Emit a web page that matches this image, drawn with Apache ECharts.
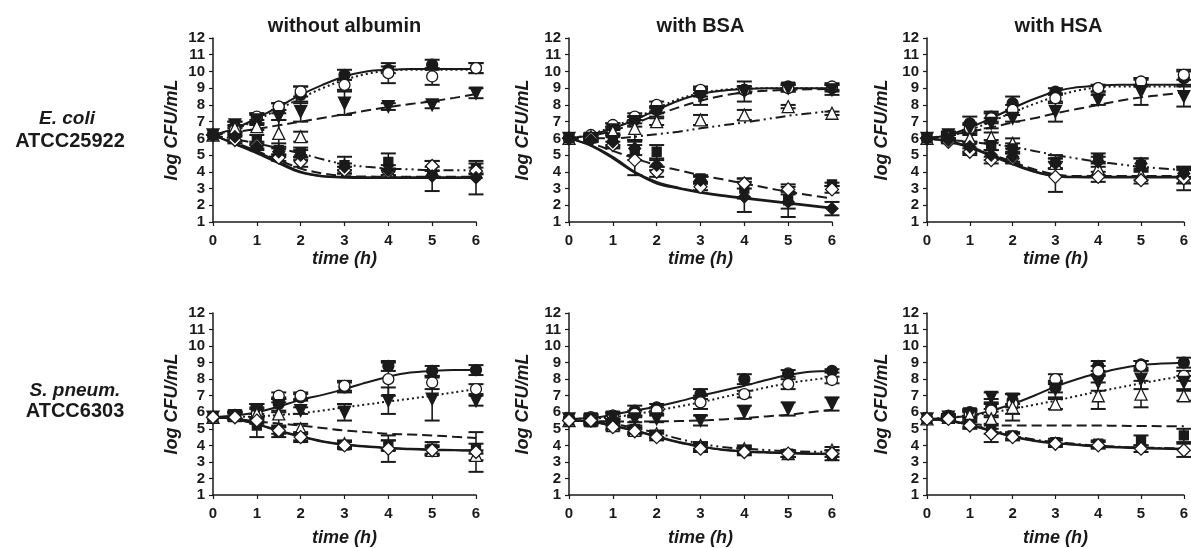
<!DOCTYPE html>
<html><head><meta charset="utf-8">
<script src="https://cdn.jsdelivr.net/npm/echarts@6/dist/echarts.min.js"></script>
<style>html,body{margin:0;padding:0;background:#fff}#c{width:1191px;height:548px}</style>
</head><body><div id="c"></div>
<script>
// ---------------- DATA ----------------
const timePoints = [0, 0.5, 1, 1.5, 2, 3, 4, 5, 6];
const fitTimes = [0, 0.5, 1, 1.5, 2, 2.5, 3, 3.5, 4, 4.5, 5, 5.5, 6];
const columnTitles = ['without albumin', 'with BSA', 'with HSA'];
const rowSpecies = ['E. coli', 'S. pneum.'];
const rowStrains = ['ATCC25922', 'ATCC6303'];
const xTickLabels = ['0', '1', '2', '3', '4', '5', '6'];
const yAxisTitle = 'log CFU/mL';
const xAxisTitle = 'time (h)';
// marker order: filled circle, open circle, filled down-triangle, open up-triangle, filled square, open diamond, filled diamond

// E. coli, without albumin
const ecoliNoneValues = [
  [6.2, 6.7, 7.2, 7.9, 8.6, 9.8, 10.1, 10.4, 10.2],
  [6.2, 6.5, 7.3, 7.9, 8.8, 9.2, 9.9, 9.7, 10.2],
  [6.2, 6.8, 7.1, 7.3, 7.6, 8.1, 7.9, 8.0, 8.7],
  [6.2, 6.6, 6.7, 6.3, 6.1, 4.4, 4.1, 4.1, 4.0],
  [6.2, 6.0, 5.9, 5.3, 5.15, 4.4, 4.6, 4.0, 4.2],
  [6.2, 5.9, 5.6, 4.85, 4.6, 4.1, 4.0, 4.35, 4.05],
  [6.2, 6.1, 5.5, 5.2, 5.0, 4.3, 4.1, 3.75, 3.65]
];
const ecoliNoneErrors = [
  [0.1, 0.3, 0.3, 0.2, 0.5, 0.3, 0.2, 0.3, 0.3],
  [0.1, 0.2, 0.2, 0.2, 0.3, 0.3, 0.6, 0.5, 0.3],
  [0.1, 0.2, 0.3, 0.2, 0.6, 0.7, 0.2, 0.2, 0.3],
  [0.1, 0.2, 0.2, 0.8, 0.3, 0, 0, 0, 0],
  [0.1, 0.2, 0.3, 0.4, 0.3, 0.5, 0.5, 0.3, 0.3],
  [0.1, 0.2, 0.2, 0.2, 0.3, 0.2, 0.2, 0.3, 0.2],
  [0.1, 0, 0.2, 0.2, 0.3, 0.2, 0.3, 0.9, 1.0]
];
const ecoliNoneFits = [
  [6.2, 6.6, 7.2, 7.9, 8.6, 9.2, 9.7, 10.0, 10.1, 10.15, 10.15, 10.15, 10.15],
  [6.2, 6.55, 7.1, 7.75, 8.4, 9.0, 9.5, 9.85, 10.05, 10.1, 10.1, 10.1, 10.1],
  [6.2, 6.38, 6.57, 6.78, 7.0, 7.22, 7.44, 7.66, 7.87, 8.05, 8.22, 8.42, 8.65],
  [6.2, 5.95, 5.7, 5.4, 5.1, 4.75, 4.45, 4.3, 4.2, 4.15, 4.1, 4.1, 4.1],
  [6.2, 5.75, 5.25, 4.7, 4.2, 3.9, 3.75, 3.72, 3.7, 3.7, 3.7, 3.7, 3.7],
  [6.2, 5.7, 5.2, 4.6, 4.0, 3.75, 3.7, 3.68, 3.68, 3.68, 3.68, 3.68, 3.68],
  [6.2, 5.65, 5.1, 4.5, 3.95, 3.72, 3.65, 3.63, 3.63, 3.63, 3.63, 3.63, 3.63]
];
const ecoliNoneFitKinds = ['solid', 'dotted', 'dashed', 'dashdotdot', 'dashed', 'solid', 'solid'];

// E. coli, with BSA
const ecoliBsaValues = [
  [6.0, 6.1, 6.7, 7.1, 7.7, 8.7, 8.9, 9.1, 9.0],
  [6.0, 6.2, 6.8, 7.3, 8.0, 8.9, 8.9, 9.0, 9.1],
  [6.0, 6.0, 6.5, 7.0, 7.6, 8.5, 8.8, 9.0, 8.9],
  [6.0, 6.1, 6.4, 6.6, 7.0, 7.1, 7.4, 7.9, 7.5],
  [6.0, 6.0, 5.9, 5.3, 5.2, 3.6, 3.0, 2.3, 3.25],
  [6.0, 6.0, 5.6, 4.7, 4.0, 3.1, 3.3, 2.95, 2.95],
  [6.0, 5.9, 5.8, 5.4, 4.4, 3.5, 2.5, 2.2, 1.8]
];
const ecoliBsaErrors = [
  [0.2, 0.2, 0.2, 0.2, 0.2, 0.2, 0.2, 0.2, 0.2],
  [0.2, 0.1, 0.1, 0.2, 0.2, 0.2, 0.2, 0.2, 0.2],
  [0.2, 0.2, 0.2, 0.3, 0.3, 0.5, 0.6, 0.2, 0.3],
  [0.2, 0.1, 0.2, 0.7, 0.2, 0.3, 0.3, 0.1, 0.1],
  [0.2, 0.2, 0.3, 0.6, 0.4, 0.2, 0.6, 0.5, 0.1],
  [0.2, 0.1, 0.2, 0.9, 0.3, 0.2, 0.3, 0.3, 0.2],
  [0.2, 0.1, 0.3, 0.4, 0.3, 0.2, 0.9, 0.9, 0.4]
];
const ecoliBsaFits = [
  [6.0, 6.2, 6.6, 7.1, 7.7, 8.25, 8.65, 8.85, 8.95, 9.0, 9.0, 9.0, 9.0],
  [6.0, 6.25, 6.7, 7.2, 7.8, 8.35, 8.7, 8.9, 8.97, 9.0, 9.0, 9.0, 9.0],
  [6.0, 6.15, 6.45, 6.9, 7.4, 7.85, 8.25, 8.55, 8.75, 8.85, 8.9, 8.93, 8.95],
  [6.0, 6.0, 6.0, 6.1, 6.25, 6.4, 6.6, 6.78, 6.95, 7.15, 7.35, 7.5, 7.65],
  [6.0, 5.7, 5.25, 4.8, 4.4, 4.1, 3.8, 3.55, 3.3, 3.05, 2.8, 2.6, 2.4],
  [6.0, 5.6, 4.9, 4.0, 3.4, 3.05, 2.8, 2.6, 2.45, 2.3, 2.15, 2.0, 1.85],
  [6.0, 5.55, 4.8, 3.95, 3.3, 3.0, 2.75, 2.55, 2.4, 2.25, 2.1, 1.95, 1.8]
];
const ecoliBsaFitKinds = ['solid', 'dotted', 'dashed', 'dashdotdot', 'dashed', 'solid', 'solid'];

// E. coli, with HSA
const ecoliHsaValues = [
  [6.0, 6.2, 6.9, 7.3, 8.1, 8.8, 9.0, 9.3, 9.6],
  [6.0, 6.0, 6.6, 7.2, 7.7, 8.4, 9.0, 9.4, 9.8],
  [6.0, 6.2, 6.6, 6.9, 7.2, 7.6, 8.3, 8.8, 8.5],
  [6.0, 6.1, 6.0, 6.05, 5.7, 4.5, 4.2, 3.8, 3.7],
  [6.0, 6.0, 5.4, 5.6, 5.4, 4.6, 4.8, 4.4, 4.0],
  [6.0, 5.8, 5.2, 4.7, 4.8, 3.7, 3.7, 3.5, 3.6],
  [6.0, 5.9, 5.5, 5.0, 4.9, 4.5, 4.6, 4.5, 3.9]
];
const ecoliHsaErrors = [
  [0.1, 0.2, 0.4, 0.3, 0.4, 0.2, 0.2, 0.2, 0.4],
  [0.1, 0.2, 0.3, 0.3, 0.3, 0.3, 0.2, 0.2, 0.3],
  [0.1, 0.2, 0.2, 0.3, 0.2, 0.6, 0.3, 0.8, 0.6],
  [0.1, 0.2, 0.2, 0.3, 0.3, 0.3, 0.4, 0.3, 0.4],
  [0.1, 0.2, 0.3, 0.3, 0.3, 0.4, 0.3, 0.4, 0.3],
  [0.1, 0.1, 0.2, 0.2, 0.3, 0.9, 0.3, 0.2, 0.7],
  [0.1, 0.1, 0.3, 0.3, 0.3, 0.3, 0.3, 0.3, 0.3]
];
const ecoliHsaFits = [
  [6.0, 6.2, 6.65, 7.2, 7.8, 8.35, 8.8, 9.05, 9.15, 9.2, 9.2, 9.2, 9.2],
  [6.0, 6.15, 6.5, 7.0, 7.55, 8.05, 8.5, 8.85, 9.05, 9.1, 9.1, 9.1, 9.1],
  [6.0, 6.2, 6.4, 6.65, 6.95, 7.2, 7.5, 7.75, 8.0, 8.25, 8.45, 8.6, 8.75],
  [6.0, 5.9, 5.8, 5.65, 5.5, 5.25, 5.0, 4.8, 4.6, 4.45, 4.3, 4.2, 4.1],
  [6.0, 5.8, 5.5, 5.05, 4.6, 4.15, 3.85, 3.75, 3.75, 3.75, 3.75, 3.75, 3.75],
  [6.0, 5.85, 5.5, 5.0, 4.5, 4.05, 3.75, 3.7, 3.7, 3.7, 3.7, 3.7, 3.7],
  [6.0, 5.8, 5.45, 4.95, 4.45, 4.0, 3.72, 3.67, 3.66, 3.66, 3.66, 3.66, 3.66]
];
const ecoliHsaFitKinds = ['solid', 'dotted', 'dashed', 'dashdotdot', 'dashed', 'solid', 'solid'];

// S. pneumoniae, without albumin
const pneumNoneValues = [
  [5.7, 5.8, 6.1, 6.5, 6.9, 7.5, 8.8, 8.5, 8.55],
  [5.7, 5.8, 5.9, 7.0, 7.0, 7.6, 8.0, 7.8, 7.4],
  [5.7, 5.8, 6.1, 6.4, 6.1, 6.0, 6.7, 6.8, 6.7],
  [5.7, 5.8, 5.9, 5.9, 5.0, 4.1, 4.0, 3.7, 3.4],
  [5.7, 5.8, 5.2, 4.8, 4.5, 4.0, 4.0, 3.8, 3.8],
  [5.7, 5.7, 5.5, 4.9, 4.5, 4.0, 3.8, 3.7, 3.6]
];
const pneumNoneErrors = [
  [0.1, 0.2, 0.4, 0.4, 0.2, 0.3, 0.3, 0.3, 0.3],
  [0.1, 0.2, 0.3, 0.2, 0.2, 0.3, 1.0, 0.4, 0.3],
  [0.1, 0.2, 0.4, 0.4, 0.2, 0.5, 0.8, 1.3, 0.3],
  [0.1, 0.2, 0.4, 0.7, 0.3, 0.2, 0.3, 0.2, 0.3],
  [0.1, 0.3, 0.7, 0.3, 0.2, 0.2, 0.3, 0.4, 0.3],
  [0.1, 0.2, 0.2, 0.2, 0.3, 0.2, 0.8, 0.3, 1.2]
];
const pneumNoneFits = [
  [5.7, 5.8, 6.0, 6.35, 6.75, 7.05, 7.4, 7.8, 8.15, 8.4, 8.5, 8.55, 8.55],
  [5.7, 5.72, 5.75, 5.83, 5.95, 6.1, 6.3, 6.47, 6.65, 6.82, 7.0, 7.2, 7.4],
  [5.7, 5.6, 5.45, 5.32, 5.2, 5.05, 4.9, 4.8, 4.7, 4.65, 4.6, 4.52, 4.45],
  [5.7, 5.6, 5.3, 4.9, 4.55, 4.25, 4.05, 3.95, 3.85, 3.8, 3.75, 3.72, 3.7],
  [5.7, 5.58, 5.27, 4.87, 4.52, 4.22, 4.02, 3.92, 3.82, 3.77, 3.72, 3.7, 3.68]
];
const pneumNoneFitKinds = ['solid', 'dotted', 'dashed', 'solid', 'solid'];

// S. pneumoniae, with BSA
const pneumBsaValues = [
  [5.6, 5.6, 5.8, 6.1, 6.3, 7.1, 8.0, 8.35, 8.5],
  [5.6, 5.7, 5.8, 5.9, 6.1, 6.6, 7.1, 7.7, 7.95],
  [5.6, 5.6, 5.7, 5.6, 5.6, 5.5, 6.0, 6.2, 6.5],
  [5.5, 5.5, 5.2, 4.9, 4.7, 4.0, 3.8, 3.5, 3.7],
  [5.5, 5.4, 5.4, 5.0, 4.6, 3.9, 3.7, 3.5, 3.4],
  [5.5, 5.5, 5.1, 4.85, 4.5, 3.8, 3.6, 3.5, 3.5]
];
const pneumBsaErrors = [
  [0.2, 0.2, 0.2, 0.3, 0.2, 0.3, 0.3, 0.2, 0.1],
  [0.2, 0.2, 0.2, 0.2, 0.2, 0.4, 0.2, 0.3, 0.2],
  [0.2, 0.2, 0.2, 0.2, 0.2, 0.3, 0.4, 0.4, 0.4],
  [0.2, 0.2, 0.2, 0.2, 0.2, 0.2, 0.2, 0.2, 0.2],
  [0.2, 0.2, 0.2, 0.2, 0.2, 0.2, 0.2, 0.2, 0.3],
  [0.2, 0.2, 0.2, 0.2, 0.2, 0.2, 0.2, 0.2, 0.2]
];
const pneumBsaFits = [
  [5.6, 5.65, 5.85, 6.1, 6.35, 6.65, 7.0, 7.3, 7.6, 7.95, 8.25, 8.45, 8.5],
  [5.6, 5.62, 5.7, 5.88, 6.1, 6.35, 6.6, 6.9, 7.2, 7.5, 7.75, 7.95, 8.1],
  [5.5, 5.47, 5.45, 5.44, 5.45, 5.47, 5.5, 5.57, 5.65, 5.75, 5.85, 6.0, 6.15],
  [5.5, 5.45, 5.3, 5.05, 4.75, 4.4, 4.1, 3.9, 3.8, 3.72, 3.65, 3.62, 3.6],
  [5.5, 5.45, 5.2, 4.9, 4.55, 4.2, 3.95, 3.75, 3.65, 3.6, 3.55, 3.52, 3.5],
  [5.5, 5.43, 5.17, 4.87, 4.52, 4.17, 3.92, 3.72, 3.62, 3.56, 3.52, 3.48, 3.46]
];
const pneumBsaFitKinds = ['solid', 'dotted', 'dashed', 'dashdotdot', 'solid', 'solid'];

// S. pneumoniae, with HSA
const pneumHsaValues = [
  [5.6, 5.7, 6.0, 6.3, 6.7, 7.5, 8.8, 8.9, 9.0],
  [5.6, 5.8, 5.9, 6.1, 6.5, 8.0, 8.5, 8.8, 8.2],
  [5.6, 5.7, 5.9, 6.9, 6.8, 7.4, 7.8, 8.0, 7.8],
  [5.6, 5.7, 5.8, 5.6, 6.3, 6.5, 7.0, 7.1, 7.0],
  [5.6, 5.6, 5.3, 5.0, 4.6, 4.2, 4.1, 4.3, 4.6],
  [5.6, 5.6, 5.2, 4.7, 4.5, 4.1, 4.0, 3.8, 3.7]
];
const pneumHsaErrors = [
  [0.1, 0.1, 0.2, 0.5, 0.4, 0.3, 0.3, 0.2, 0.3],
  [0.1, 0.1, 0.2, 0.4, 0.6, 0.3, 0.3, 0.3, 0.3],
  [0.1, 0.1, 0.2, 0.3, 0.3, 0.5, 0.5, 0.6, 0.4],
  [0.1, 0.1, 0.2, 0.6, 0.8, 0.3, 0.8, 0.8, 0.3],
  [0.1, 0.1, 0.2, 0.3, 0.2, 0.2, 0.2, 0.3, 0.4],
  [0.1, 0.1, 0.2, 0.5, 0.2, 0.2, 0.2, 0.2, 0.4]
];
const pneumHsaFits = [
  [5.6, 5.65, 5.8, 6.1, 6.5, 7.0, 7.55, 8.0, 8.35, 8.65, 8.85, 8.95, 9.0],
  [5.6, 5.68, 5.8, 5.98, 6.2, 6.45, 6.7, 6.98, 7.25, 7.5, 7.75, 7.98, 8.2],
  [5.6, 5.45, 5.3, 5.22, 5.2, 5.2, 5.2, 5.2, 5.2, 5.18, 5.17, 5.16, 5.15],
  [5.6, 5.5, 5.3, 4.95, 4.6, 4.35, 4.2, 4.08, 3.98, 3.92, 3.87, 3.84, 3.82],
  [5.6, 5.5, 5.25, 4.9, 4.55, 4.3, 4.15, 4.05, 3.95, 3.9, 3.85, 3.82, 3.8],
  [5.6, 5.48, 5.22, 4.87, 4.52, 4.27, 4.12, 4.02, 3.92, 3.87, 3.82, 3.79, 3.77]
];
const pneumHsaFitKinds = ['solid', 'dotted', 'dashed', 'dashdot', 'solid', 'solid'];

// ---------------- STYLE / LAYOUT ----------------
const FONT = '"Liberation Sans", Arial, sans-serif';
const INK = '#1a1a1a';
const panels = [
  { vals: ecoliNoneValues, errs: ecoliNoneErrors, fits: ecoliNoneFits, kinds: ecoliNoneFitKinds },
  { vals: ecoliBsaValues, errs: ecoliBsaErrors, fits: ecoliBsaFits, kinds: ecoliBsaFitKinds },
  { vals: ecoliHsaValues, errs: ecoliHsaErrors, fits: ecoliHsaFits, kinds: ecoliHsaFitKinds },
  { vals: pneumNoneValues, errs: pneumNoneErrors, fits: pneumNoneFits, kinds: pneumNoneFitKinds },
  { vals: pneumBsaValues, errs: pneumBsaErrors, fits: pneumBsaFits, kinds: pneumBsaFitKinds },
  { vals: pneumHsaValues, errs: pneumHsaErrors, fits: pneumHsaFits, kinds: pneumHsaFitKinds }
];
const colLeft = [213, 569, 927];
const colNameGap = [31, 36, 35];
const rowTop = [38, 313];
const rowXNameGap = [28, 34];
const GRID_W = 263, GRID_H = 184;

const markerStyles = [
  { symbol: 'circle', size: 11, fill: INK, rot: 0 },
  { symbol: 'circle', size: 11, fill: '#fff', rot: 0 },
  { symbol: 'triangle', size: 12, fill: INK, rot: 180 },
  { symbol: 'triangle', size: 12, fill: '#fff', rot: 0 },
  { symbol: 'rect', size: 9, fill: INK, rot: 0 },
  { symbol: 'diamond', size: 13, fill: '#fff', rot: 0 },
  { symbol: 'diamond', size: 12, fill: INK, rot: 0 }
];
const dashTypes = {
  solid: 'solid',
  dotted: [2, 3],
  dashed: [10, 5],
  dashdotdot: [10, 4, 2, 4, 2, 4],
  dashdot: [10, 4, 2, 4]
};

const grids = [], xAxes = [], yAxes = [], series = [];
panels.forEach((p, i) => {
  const row = Math.floor(i / 3), col = i % 3;
  grids.push({ left: colLeft[col], top: rowTop[row], width: GRID_W, height: GRID_H });
  xAxes.push({
    gridIndex: i, type: 'value', min: 0, max: 6, interval: 1,
    name: xAxisTitle, nameLocation: 'middle', nameGap: rowXNameGap[row],
    nameTextStyle: { fontFamily: FONT, fontWeight: 'bold', fontStyle: 'italic', fontSize: 18, color: INK },
    axisLine: { lineStyle: { color: INK, width: 1.5 } },
    axisTick: { show: true, length: 4, lineStyle: { color: INK, width: 1.2 } },
    axisLabel: { fontFamily: FONT, fontWeight: 'bold', fontSize: 15, color: INK, margin: 11,
      formatter: v => xTickLabels[Math.round(v)] },
    splitLine: { show: false }
  });
  yAxes.push({
    gridIndex: i, type: 'value', min: 1, max: 12, interval: 1,
    name: yAxisTitle, nameLocation: 'middle', nameGap: colNameGap[col] + 1,
    nameTextStyle: { fontFamily: FONT, fontWeight: 'bold', fontStyle: 'italic', fontSize: 18, color: INK },
    axisLine: { show: true, lineStyle: { color: INK, width: 1.5 } },
    axisTick: { show: true, length: 4, lineStyle: { color: INK, width: 1.2 } },
    axisLabel: { fontFamily: FONT, fontWeight: 'bold', fontSize: 15, color: INK, margin: 8 },
    splitLine: { show: false }
  });
  // fitted curves
  p.fits.forEach((f, k) => {
    series.push({
      type: 'line', xAxisIndex: i, yAxisIndex: i, smooth: 0.35, symbol: 'none', silent: true,
      data: fitTimes.map((t, j) => [t, f[j]]),
      lineStyle: { color: INK, width: 2, type: dashTypes[p.kinds[k]] },
      z: 3
    });
  });
  // error bars and markers
  p.vals.forEach((vals, m) => {
    const errs = p.errs[m];
    series.push({
      type: 'custom', xAxisIndex: i, yAxisIndex: i, silent: true, z: 2,
      data: timePoints.map((t, j) => [t, vals[j] - errs[j], vals[j] + errs[j]]).filter((d, j) => errs[j] > 0 && timePoints[j] > 0),
      encode: { x: 0, y: [1, 2] },
      renderItem: (params, api) => {
        const x = api.value(0);
        const top = api.coord([x, api.value(2)]);
        const bot = api.coord([x, api.value(1)]);
        const w = 7.5;
        const st = { stroke: INK, lineWidth: 1.6 };
        return { type: 'group', children: [
          { type: 'line', shape: { x1: top[0], y1: top[1], x2: bot[0], y2: bot[1] }, style: st },
          { type: 'line', shape: { x1: top[0] - w, y1: top[1], x2: top[0] + w, y2: top[1] }, style: { stroke: INK, lineWidth: 2 } },
          { type: 'line', shape: { x1: bot[0] - w, y1: bot[1], x2: bot[0] + w, y2: bot[1] }, style: { stroke: INK, lineWidth: 2 } }
        ] };
      }
    });
    const ms = markerStyles[m];
    series.push({
      type: 'scatter', xAxisIndex: i, yAxisIndex: i, silent: true, z: 4,
      symbol: ms.symbol, symbolSize: ms.size, symbolRotate: ms.rot,
      itemStyle: { color: ms.fill, borderColor: INK, borderWidth: 1.3, opacity: 1 },
      data: timePoints.map((t, j) => [t, vals[j]])
    });
  });
});

const graphic = [];
columnTitles.forEach((t, c) => {
  graphic.push({ type: 'text', x: colLeft[c] + GRID_W / 2, y: 26,
    style: { text: t, font: 'bold 20px ' + FONT, fill: INK, align: 'center', verticalAlign: 'middle' } });
});
const rowLabelPos = [[67, 119, 70, 141], [75, 391, 75, 411]];
rowSpecies.forEach((s, r) => {
  const q = rowLabelPos[r];
  graphic.push({ type: 'text', x: q[0], y: q[1],
    style: { text: s, font: 'italic bold 19px ' + FONT, fill: INK, align: 'center', verticalAlign: 'middle' } });
  graphic.push({ type: 'text', x: q[2], y: q[3],
    style: { text: rowStrains[r], font: 'bold 20px ' + FONT, fill: INK, align: 'center', verticalAlign: 'middle' } });
});

const chart = echarts.init(document.getElementById('c'), null, { renderer: 'canvas' });
chart.setOption({
  backgroundColor: '#fff',
  animation: false,
  grid: grids, xAxis: xAxes, yAxis: yAxes, series: series, graphic: graphic
});
</script>
</body></html>
